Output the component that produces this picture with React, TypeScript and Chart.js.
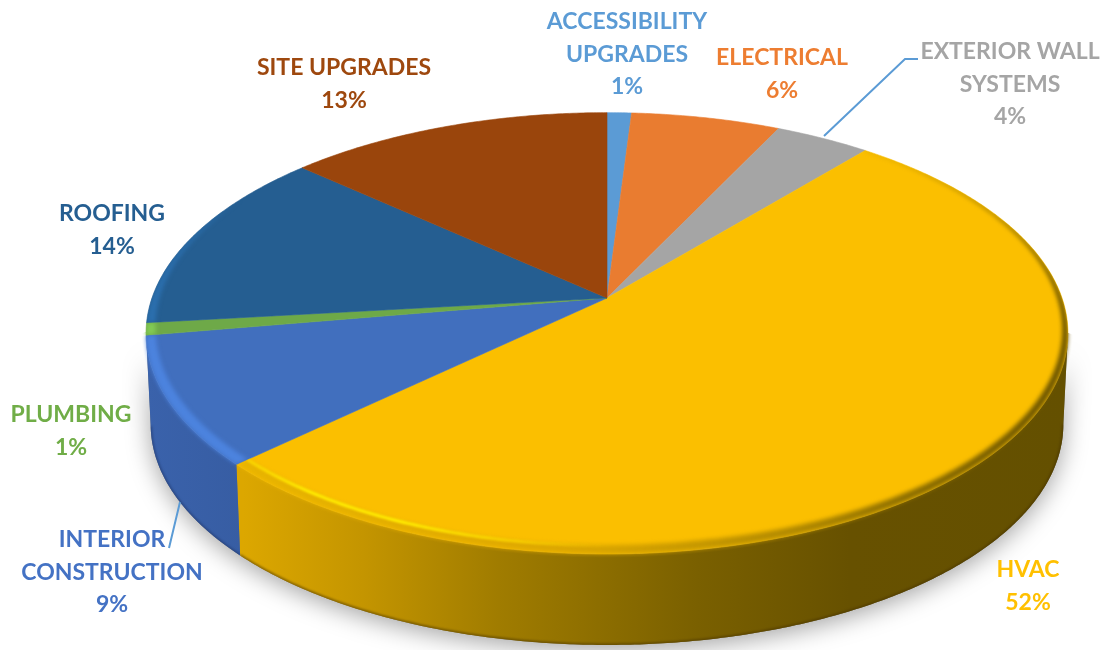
import React, { useEffect, useRef } from "react";
import { Chart, registerables } from "chart.js";

Chart.register(...registerables);

const categories = [
  ["ACCESSIBILITY", "UPGRADES"],
  ["ELECTRICAL"],
  ["EXTERIOR WALL", "SYSTEMS"],
  ["HVAC"],
  ["INTERIOR", "CONSTRUCTION"],
  ["PLUMBING"],
  ["ROOFING"],
  ["SITE UPGRADES"],
];
const shares = [1.0, 6.1, 3.9, 51.9, 9.4, 0.9, 13.5, 13.3];
const percentLabels = ["1%", "6%", "4%", "52%", "9%", "1%", "14%", "13%"];
const sliceColors = ["#5b9bd5", "#e97c30", "#a5a5a5", "#fbbf00", "#416fbe", "#6ea948", "#255e91", "#9a450c"];
const labelColors = ["#5b9bd5", "#ed7d31", "#a5a5a5", "#ffc000", "#4472c4", "#70ad47", "#255e91", "#9e480e"];

// layout of the label blocks: centre x, y of the first line's middle
const labelAnchors: number[][] = [
  [627, 22], [782, 58], [1010, 52], [1028, 570], [112, 540], [71, 415], [112, 214], [344, 68],
];

// projection of the disc
const CX = 607, CY = 298, K = 0.16, A = 215, B = 455, DEPTH = 91;
const TAU = Math.PI * 2;
const rad = (d: number) => (d * Math.PI) / 180;

function top(t: number, r = 1): [number, number] {
  const u = Math.sin(t) * r, v = Math.cos(t) * r, w = 1 + K * v;
  return [CX + (B * u) / w, CY - (A * v) / w];
}
function bottom(t: number): [number, number] {
  const u = Math.sin(t), v = Math.cos(t), w = 1 + K * v;
  return [CX + (0.99 * B * u) / w, CY + DEPTH - (A * v) / w];
}
function trace(ctx: CanvasRenderingContext2D, f: (t: number) => [number, number], a: number, b: number, move: boolean) {
  const n = Math.max(2, Math.ceil(Math.abs(b - a) / rad(0.5)));
  for (let i = 0; i <= n; i++) {
    const [x, y] = f(a + ((b - a) * i) / n);
    if (i === 0 && move) ctx.moveTo(x, y);
    else ctx.lineTo(x, y);
  }
}
function hGrad(ctx: CanvasRenderingContext2D, x0: number, x1: number, stops: [number, string][]) {
  const g = ctx.createLinearGradient(x0, 0, x1, 0);
  stops.forEach(([o, c]) => g.addColorStop(o, c));
  return g;
}

const SIDE_MIN = Math.acos(-K);
const SIDE_MAX = TAU - SIDE_MIN;

// thickness of the bevel (as a share of the radius) around the rim
function bevel(t: number): number {
  const d = (t * 180) / Math.PI;
  const stops = [[40, 0.002], [100, 0.012], [170, 0.03], [226, 0.028], [262, 0.02], [290, 0.008], [300, 0.0]];
  if (d <= stops[0][0]) return stops[0][1];
  for (let i = 1; i < stops.length; i++) {
    if (d <= stops[i][0]) {
      const f = (d - stops[i - 1][0]) / (stops[i][0] - stops[i - 1][0]);
      return stops[i - 1][1] + (stops[i][1] - stops[i - 1][1]) * f;
    }
  }
  return 0;
}

const pie3d = {
  id: "pie3d",
  beforeDatasetDraw(chart: any) {
    const ctx: CanvasRenderingContext2D = chart.ctx;
    const arcs = chart.getDatasetMeta(0).data as any[];
    const angles = arcs.map((a) => {
      const p = a.getProps(["startAngle", "endAngle"], true);
      return [p.startAngle + Math.PI / 2, p.endAngle + Math.PI / 2];
    });

    // soft drop shadow
    ctx.save();
    ctx.shadowColor = "rgba(0,0,0,0.36)";
    ctx.shadowBlur = 24;
    ctx.shadowOffsetY = 5;
    ctx.fillStyle = "#777";
    ctx.beginPath();
    trace(ctx, bottom, SIDE_MIN, SIDE_MAX, true);
    trace(ctx, top, SIDE_MAX, SIDE_MIN, false);
    ctx.closePath();
    ctx.fill();
    ctx.restore();

    // side wall
    const sideFill = [
      null, null, null,
      hGrad(ctx, 243, 1068, [[0, "#dca700"], [0.145, "#c49500"], [0.31, "#a07c00"], [0.55, "#7a6000"], [0.735, "#675100"], [1, "#645000"]]),
      hGrad(ctx, 146, 243, [[0, "#3a62ab"], [1, "#375da3"]]),
    ];
    angles.forEach(([a, b], i) => {
      const s = Math.max(a, SIDE_MIN), e = Math.min(b, SIDE_MAX);
      if (e <= s || !sideFill[i]) return;
      ctx.beginPath();
      trace(ctx, top, s, e, true);
      trace(ctx, bottom, e, s, false);
      ctx.closePath();
      ctx.fillStyle = sideFill[i] as any;
      ctx.fill();
      // dark lower edge
      ctx.save();
      ctx.clip();
      ctx.filter = "blur(1px)";
      ctx.beginPath();
      trace(ctx, bottom, s, e, true);
      ctx.lineWidth = 3;
      ctx.strokeStyle = i === 3 ? "rgba(70,50,0,0.55)" : "rgba(30,50,100,0.5)";
      ctx.stroke();
      ctx.restore();
    });

    // top face
    angles.forEach(([a, b], i) => {
      ctx.beginPath();
      ctx.moveTo(CX, CY);
      trace(ctx, top, a, b, false);
      ctx.closePath();
      ctx.fillStyle = sliceColors[i];
      ctx.strokeStyle = sliceColors[i];
      ctx.lineWidth = 0.6;
      ctx.fill();
      ctx.stroke();
    });

    // bevel along the rim
    const rimStyle: any[] = [
      null, null, null,
      hGrad(ctx, 243, 1068, [[0, "#e8b400"], [0.31, "#e0aa00"], [0.43, "#d8a400"], [0.55, "#c69800"], [0.675, "#b08800"], [0.8, "#8f7000"], [1, "#6a5300"]]),
      "#4c83de", "#82ca54", "#2b6fae", null,
    ];
    const glint = hGrad(ctx, 243, 1068, [[0, "rgba(255,226,0,0.6)"], [0.08, "rgba(255,236,0,1)"], [0.2, "rgba(255,236,0,1)"], [0.33, "rgba(255,224,0,0.6)"], [0.45, "rgba(255,210,0,0)"], [1, "rgba(255,210,0,0)"]]);
    angles.forEach(([a, b], i) => {
      if (!rimStyle[i]) return;
      ctx.save();
      ctx.beginPath();
      ctx.moveTo(CX, CY);
      trace(ctx, (t) => top(t, t > SIDE_MIN && t < SIDE_MAX ? 1.012 : 1), a, b, false);
      ctx.closePath();
      ctx.clip();
      ctx.filter = "blur(2px)";
      ctx.beginPath();
      trace(ctx, (t) => top(t, 1), a, b, true);
      trace(ctx, (t) => top(t, 1 - bevel(t)), b, a, false);
      ctx.closePath();
      ctx.fillStyle = rimStyle[i];
      ctx.fill();
      if (i === 3) {
        ctx.filter = "blur(1px)";
        ctx.beginPath();
        trace(ctx, (t) => top(t, 1 - bevel(t) * 0.95), Math.max(a, SIDE_MIN), b, true);
        ctx.lineWidth = 3;
        ctx.strokeStyle = glint;
        ctx.stroke();
      }
      ctx.restore();
    });
    return false;
  },
  afterDraw(chart: any) {
    const ctx: CanvasRenderingContext2D = chart.ctx;
    ctx.save();
    // leader lines
    ctx.strokeStyle = "#5b9bd5";
    ctx.lineWidth = 2;
    ctx.beginPath();
    ctx.moveTo(824, 136);
    ctx.lineTo(905, 59);
    ctx.lineTo(918, 59);
    ctx.moveTo(180, 502);
    ctx.lineTo(169, 548);
    ctx.stroke();

    ctx.font = "700 23px Lato";
    ctx.textAlign = "center";
    ctx.textBaseline = "middle";
    categories.forEach((lines, i) => {
      const [x, y] = labelAnchors[i];
      ctx.fillStyle = labelColors[i];
      [...lines, percentLabels[i]].forEach((s, j) => ctx.fillText(s, x, y + j * 32.3));
    });
    ctx.restore();
  },
};

export default function App() {
  const ref = useRef<HTMLCanvasElement>(null);
  useEffect(() => {
    const chart = new Chart(ref.current!, {
      type: "pie",
      data: {
        labels: categories.map((c) => c.join(" ")),
        datasets: [{ data: shares, backgroundColor: sliceColors, borderWidth: 0 }],
      },
      options: {
        responsive: false,
        animation: false,
        plugins: { legend: { display: false }, tooltip: { enabled: false } },
      },
      plugins: [pie3d],
    } as any);
    return () => chart.destroy();
  }, []);
  return (
    <canvas
      ref={ref}
      width={1103}
      height={650}
      style={{ position: "fixed", left: 0, top: 0, width: 1103, height: 650, background: "#fff" }}
    />
  );
}
